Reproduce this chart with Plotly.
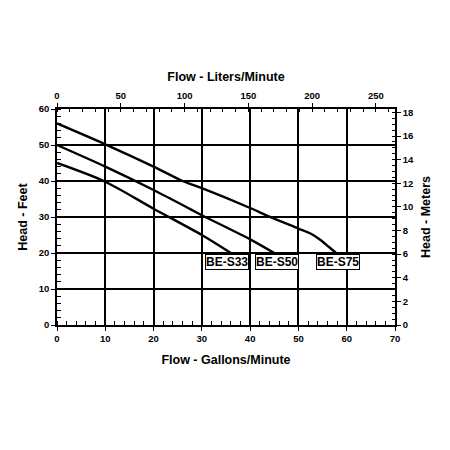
import plotly.graph_objects as go

# pump curves, flow in gal/min, head in feet
s33_gpm = [0, 10, 20, 30, 36]
s33_ft = [45, 39.8, 32.3, 25, 20]

s50_gpm = [0, 10, 20, 27.6, 30, 40, 45]
s50_ft = [50, 44, 37.5, 32.2, 30.5, 23.8, 20]

s75_gpm = [0, 10, 20, 26, 30, 40, 44, 50, 52.5, 54.5, 56.2, 57.8]
s75_ft = [56, 50.2, 44, 40, 38, 32.5, 30.1, 26.8, 25.4, 23.7, 21.8, 20]

labels = ['BE-S33', 'BE-S50', 'BE-S75']
label_gpm = [35.3, 45.5, 58.1]
label_ft = [17.6, 17.6, 17.6]

GPM_MAX = 70
FT_MAX = 60
L_PER_GAL = 3.78541
M_PER_FT = 0.3048

FONT = 'Liberation Sans'

fig = go.Figure()
for xs, ys in [(s33_gpm, s33_ft), (s50_gpm, s50_ft), (s75_gpm, s75_ft)]:
	fig.add_trace(go.Scatter(
		x = xs, y = ys, mode = 'lines',
		line = dict(color = 'black', width = 2.4, shape = 'spline', smoothing = 0.8),
		showlegend = False, hoverinfo = 'skip',
	))

# invisible trace so the secondary axes get drawn
fig.add_trace(go.Scatter(
	x = [0, GPM_MAX * L_PER_GAL], y = [0, FT_MAX * M_PER_FT],
	xaxis = 'x2', yaxis = 'y2', mode = 'markers',
	marker = dict(opacity = 0), showlegend = False, hoverinfo = 'skip',
))

for txt, x, y in zip(labels, label_gpm, label_ft):
	fig.add_annotation(
		x = x, y = y, xref = 'x', yref = 'y', text = txt, showarrow = False,
		font = dict(family = 'Liberation Sans Narrow, ' + FONT, size = 12, color = 'black', weight = 'bold'),
		bgcolor = 'white', bordercolor = 'black', borderwidth = 1, borderpad = 0,
	)

tick_font = dict(family = FONT, size = 9.5, color = 'black', weight = 'bold')
title_font = dict(family = FONT, size = 12.5, color = 'black', weight = 'bold')

# page body has an 8px margin, so offsets are shifted back by that
fig.update_layout(
	width = 450, height = 450,
	margin = dict(l = 49, r = 63, t = 101, b = 133),
	plot_bgcolor = 'white', paper_bgcolor = 'white',
	xaxis = dict(
		range = [0, GPM_MAX], dtick = 10, tick0 = 0,
		showgrid = True, gridcolor = 'black', gridwidth = 1.5,
		showline = True, linecolor = 'black', linewidth = 1.5, mirror = False,
		ticks = 'outside', ticklen = 4, tickcolor = 'black',
		minor = dict(dtick = 2, ticks = 'inside', ticklen = 4, tickcolor = 'black', showgrid = False),
		tickfont = tick_font, zeroline = False,
		title = dict(text = 'Flow - Gallons/Minute', font = title_font, standoff = 12),
	),
	yaxis = dict(
		range = [0, FT_MAX], dtick = 10, tick0 = 0,
		showgrid = True, gridcolor = 'black', gridwidth = 1.5,
		showline = True, linecolor = 'black', linewidth = 1.5,
		ticks = 'outside', ticklen = 4, tickcolor = 'black',
		minor = dict(dtick = 2, ticks = 'inside', ticklen = 4, tickcolor = 'black', showgrid = False),
		tickfont = tick_font, zeroline = False,
		title = dict(text = 'Head - Feet', font = title_font, standoff = 8),
	),
	xaxis2 = dict(
		range = [0, GPM_MAX * L_PER_GAL], dtick = 50, tick0 = 0,
		overlaying = 'x', side = 'top', showgrid = False,
		showline = True, linecolor = 'black', linewidth = 1.5,
		ticks = 'outside', ticklen = 4, tickcolor = 'black',
		minor = dict(dtick = 10, ticks = 'inside', ticklen = 3, tickcolor = 'black', showgrid = False),
		tickfont = tick_font, zeroline = False,
		title = dict(text = 'Flow - Liters/Minute', font = title_font, standoff = 6),
	),
	yaxis2 = dict(
		range = [0, FT_MAX * M_PER_FT], dtick = 2, tick0 = 0,
		overlaying = 'y', side = 'right', showgrid = False,
		showline = True, linecolor = 'black', linewidth = 1.5,
		ticks = 'outside', ticklen = 4, tickcolor = 'black',
		minor = dict(dtick = 0.5, ticks = 'inside', ticklen = 3, tickcolor = 'black', showgrid = False),
		tickfont = tick_font, zeroline = False,
		title = dict(text = 'Head - Meters', font = title_font, standoff = 8),
	),
)

fig.write_html('out.html')
